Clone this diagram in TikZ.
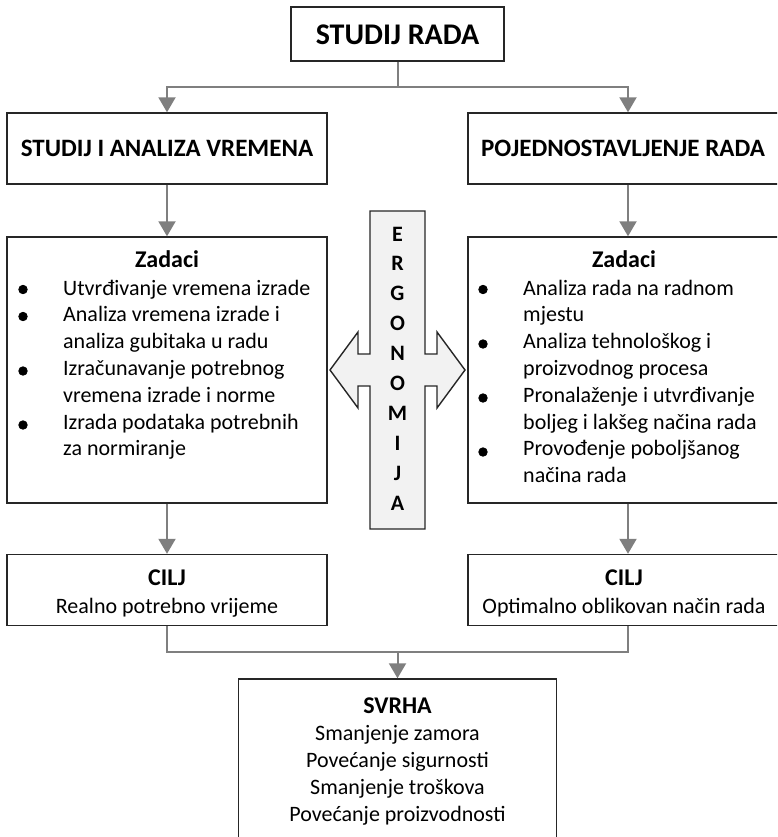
\documentclass[tikz,border=0pt]{standalone}
\usepackage{fontspec}
\setmainfont{Carlito}
\usetikzlibrary{arrows.meta,calc}
\definecolor{boxc}{HTML}{262626}
\definecolor{linec}{HTML}{7F7F7F}
\definecolor{ergofill}{HTML}{F2F2F2}
\tikzset{
 box/.style={draw=boxc, line width=1.4pt, rectangle, inner sep=0pt},
 conn/.style={draw=linec, line width=2pt},
 arr/.style={conn, -{Triangle[length=15pt,width=17pt]}},
 body/.style={font=\fontsize{22}{26.8}\selectfont, inner sep=0pt},
 bhead/.style={font=\fontsize{24}{28}\selectfont\bfseries, inner sep=0pt},
 hdr/.style={font=\fontsize{25}{30}\selectfont\bfseries, inner sep=0pt},
 bulletdot/.style={circle, fill=black, draw=black, line width=0.8pt, inner sep=0pt, minimum size=8.5pt},
}
\newcommand{\sub}[1]{{\fontsize{24}{28}\selectfont\bfseries #1}}
\begin{document}
\begin{tikzpicture}[x=1pt,y=-1pt]
\useasboundingbox (0,0) rectangle (777,837);
\clip (0,0) rectangle (777,837);
% boxes
\node[box, minimum width=213pt, minimum height=54pt] (top) at (397.5,34) {};
\node[box, minimum width=320pt, minimum height=71pt] (lh) at (167,148.5) {};
\node[box, minimum width=320pt, minimum height=71pt] (rh) at (628,148.5) {};
\node[box, minimum width=320pt, minimum height=266pt] (lz) at (167,370) {};
\node[box, minimum width=320pt, minimum height=266pt] (rz) at (628,370) {};
\node[box, minimum width=320pt, minimum height=71pt] (lc) at (167,590) {};
\node[box, minimum width=320pt, minimum height=71pt] (rc) at (628,590) {};
\node[box, minimum width=318pt, minimum height=180pt] (sv) at (397.5,769) {};
% connectors
\coordinate (j1) at (397.5,87);
\coordinate (j2) at (397.5,652);
\draw[conn] (top.south) -- (j1);
\draw[arr] (j1) -| (lh.north);
\draw[arr] (j1) -| (rh.north);
\draw[arr] (lh.south) -- (lz.north);
\draw[arr] (rh.south) -- (rz.north);
\draw[arr] (lz.south) -- (lc.north);
\draw[arr] (rz.south) -- (rc.north);
\draw[conn] (lc.south) |- (j2);
\draw[conn] (rc.south) |- (j2);
\draw[arr] (j2) -- (sv.north);
% ergonomija double arrow
\draw[draw=boxc, line width=1.4pt, fill=ergofill, line join=miter]
 (370,211) -- (425,211) -- (425,354) -- (437,354) -- (437,332) -- (465,370)
 -- (437,408) -- (437,386) -- (425,386) -- (425,529) -- (370,529) -- (370,386)
 -- (358,386) -- (358,408) -- (330,370) -- (358,332) -- (358,354) -- (370,354) -- cycle;
\node[font=\fontsize{22}{29.9}\selectfont\bfseries, inner sep=0pt, anchor=base] (ergo) at (397.5,241)
 {\begin{tabular}[t]{@{}c@{}}E\\R\\G\\O\\N\\O\\M\\I\\J\\A\end{tabular}};
% texts
\node[font=\fontsize{30}{36}\selectfont\bfseries, inner sep=0pt, anchor=base] (topt) at (397.5,45) {STUDIJ RADA};
\node[hdr, anchor=base] (lht) at (167,157) {STUDIJ I ANALIZA VREMENA};
\node[hdr, anchor=base] (rht) at (623,157) {POJEDNOSTAVLJENJE RADA};
\node[bhead, anchor=base] (lzh) at (167,267) {Zadaci};
\node[bhead, anchor=base] (rzh) at (624,267) {Zadaci};
% bullets
\node[bulletdot] (lb1) at (23,289.5) {};
\node[bulletdot] (lb2) at (23,316.5) {};
\node[bulletdot] (lb3) at (23,371) {};
\node[bulletdot] (lb4) at (23,425) {};
\node[bulletdot] (rb1) at (483,289.5) {};
\node[bulletdot] (rb2) at (483,344) {};
\node[bulletdot] (rb3) at (483,398) {};
\node[bulletdot] (rb4) at (483,452) {};
\node[body, anchor=base west] (lzl) at (63,295) {\begin{tabular}[t]{@{}l@{}}
Utvrđivanje vremena izrade\\
Analiza vremena izrade i\\
analiza gubitaka u radu\\
Izračunavanje potrebnog\\
vremena izrade i norme\\
Izrada podataka potrebnih\\
za normiranje
\end{tabular}};
\node[body, anchor=base west] (rzl) at (523,295) {\begin{tabular}[t]{@{}l@{}}
Analiza rada na radnom\\
mjestu\\
Analiza tehnološkog i\\
proizvodnog procesa\\
Pronalaženje i utvrđivanje\\
boljeg i lakšeg načina rada\\
Provođenje poboljšanog\\
načina rada
\end{tabular}};
\node[body, anchor=base] (lct) at (167,585) {\begin{tabular}[t]{@{}c@{}}\sub{CILJ}\\[1.2pt]Realno potrebno vrijeme\end{tabular}};
\node[body, anchor=base] (rct) at (624,585) {\begin{tabular}[t]{@{}c@{}}\sub{CILJ}\\[1.2pt]Optimalno oblikovan način rada\end{tabular}};
\node[body, anchor=base] (svt) at (397.5,713) {\begin{tabular}[t]{@{}c@{}}\sub{SVRHA}\\[1pt]Smanjenje zamora\\Povećanje sigurnosti\\Smanjenje troškova\\Povećanje proizvodnosti\end{tabular}};
\end{tikzpicture}
\end{document}
